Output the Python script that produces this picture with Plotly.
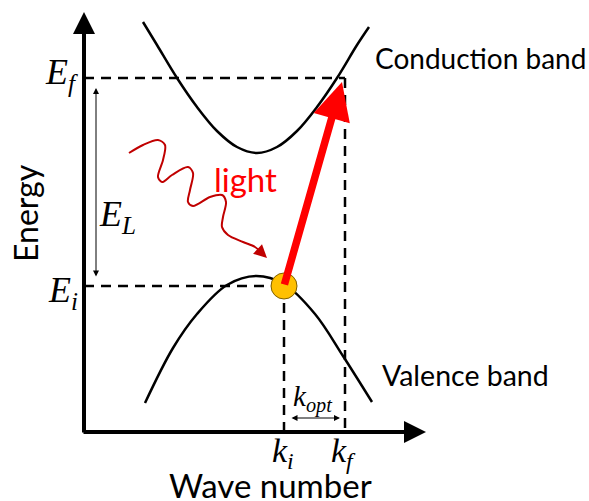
import plotly.graph_objects as go

# ---- diagram data (k = wave number units, E = energy units; origin at axes corner)
cb_k = [59, 73, 93, 113, 133, 153, 173, 193, 213, 233, 253, 273, 285]
cb_E = [410, 387, 354, 325, 301, 285, 279, 285, 301, 325, 354, 387, 405]

vb_k = [61, 89, 113, 143, 172, 200, 231, 259, 288]
vb_E = [29, 84, 118, 147, 156, 148, 118, 76, 30]

light_k = [45, 59, 74, 81, 79, 74, 78, 88, 104, 109, 106, 104, 109, 126, 138, 142, 139, 138, 144, 159, 171, 179]
light_E = [279, 287, 292, 287, 272, 255, 250, 257, 265, 259, 242, 230, 226, 235, 237, 230, 215, 205, 197, 190, 185, 178]

K_I, K_F = 200, 261
E_I, E_F = 146, 354
K_END, E_END = 342, 420
ARROW_TIP = (258, 350)

fig = go.Figure()

# bands
fig.add_trace(go.Scatter(x=cb_k, y=cb_E, mode="lines", line=dict(color="black", width=2.5, shape="spline"), hoverinfo="skip"))
fig.add_trace(go.Scatter(x=vb_k, y=vb_E, mode="lines", line=dict(color="black", width=2.5, shape="spline"), hoverinfo="skip"))

# dashed guides
dash = "10px,7px"
fig.add_trace(go.Scatter(x=[0, K_F], y=[E_F, E_F], mode="lines", line=dict(color="black", width=2.5, dash=dash), hoverinfo="skip"))
fig.add_trace(go.Scatter(x=[0, K_I], y=[E_I, E_I], mode="lines", line=dict(color="black", width=2.5, dash=dash), hoverinfo="skip"))
fig.add_trace(go.Scatter(x=[K_I, K_I], y=[E_I, 0], mode="lines", line=dict(color="black", width=2.5, dash=dash), hoverinfo="skip"))
fig.add_trace(go.Scatter(x=[K_F, K_F], y=[E_F, 0], mode="lines", line=dict(color="black", width=2.5, dash=dash), hoverinfo="skip"))

# light wave
fig.add_trace(go.Scatter(x=light_k, y=light_E, mode="lines", line=dict(color="#C00000", width=2, shape="spline", smoothing=0.9), hoverinfo="skip"))

anns = []
def arrow(x0, y0, x1, y1, color, width, size=1, head=2, start=False):
    anns.append(dict(x=x1, y=y1, ax=x0, ay=y0, xref="x", yref="y", axref="x", ayref="y",
                     showarrow=True, arrowhead=head, arrowsize=size, arrowwidth=width,
                     arrowcolor=color, standoff=0, startstandoff=0, text="",
                     arrowside="end+start" if start else "end", startarrowhead=head, startarrowsize=size))

# axes
arrow(0, -2, 0, E_END, "black", 4, 1.1)
arrow(-2, 0, K_END, 0, "black", 4, 1.1)
# light arrow head
arrow(174, 182.5, 183, 174, "#C00000", 2, 1.3)
# red transition arrow
arrow(K_I, E_I, ARROW_TIP[0], ARROW_TIP[1], "#FF0000", 7.5, 1.0)
# E_L double arrow
arrow(12, 154, 12, 344, "black", 1, 1.2, start=True)
# k_opt double arrow
arrow(206, 14, 256, 14, "black", 1, 1.2, start=True)

fig.add_trace(go.Scatter(x=[K_I], y=[E_I], mode="markers",
                         marker=dict(size=26, color="#FFC000", line=dict(color="#7F6000", width=1)), hoverinfo="skip"))

def text(x, y, t, size, color="black", family="Lato", angle=0, xanchor="center"):
    anns.append(dict(x=x, y=y, xref="x", yref="y", text=t, showarrow=False, textangle=angle,
                     xanchor=xanchor, yanchor="middle", font=dict(size=size, color=color, family=family)))

serif = "Liberation Serif"
text(-4, 358, "<i>E</i><sub><i>f</i></sub>", 36, family=serif, xanchor="right")
text(-4, 140, "<i>E</i><sub><i>i</i></sub>", 36, family=serif, xanchor="right")
text(33, 216, "<i>E</i><sub><i>L</i></sub>", 36, family=serif, xanchor="center")
text(199, -21, "<i>k</i><sub><i>i</i></sub>", 34, family=serif)
text(259, -21, "<i>k</i><sub><i>f</i></sub>", 34, family=serif)
text(229, 34, "<i>k</i><sub><i>opt</i></sub>", 29, family=serif)
text(-59, 219, "Energy", 32, angle=-90)
text(186, -53, "Wave number", 33)
text(161, 253, "light", 33, color="#FF0000")
text(396, 374, "Conduction band", 28)
text(381, 57, "Valence band", 28.5)

fig.update_layout(
    width=589, height=501, margin=dict(l=0, r=0, t=0, b=0),
    paper_bgcolor="white", plot_bgcolor="white", showlegend=False,
    xaxis=dict(range=[-84, 505], visible=False, fixedrange=True),
    yaxis=dict(range=[-69, 432], visible=False, fixedrange=True),
    annotations=anns,
)
fig.write_html("out.html")
